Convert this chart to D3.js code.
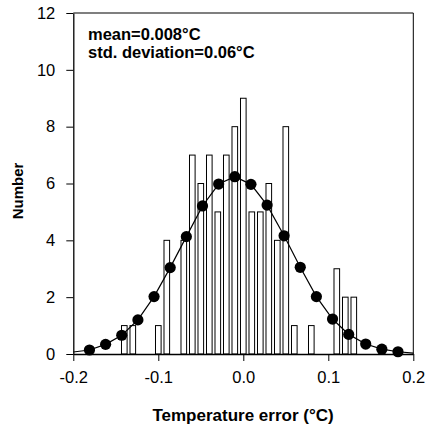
<!DOCTYPE html>
<html>
<head>
<meta charset="utf-8">
<script src="https://cdn.jsdelivr.net/npm/d3@7"></script>
<style>
body{margin:0;background:#fff;}
text{font-family:"Liberation Sans",Arial,sans-serif;}
</style>
</head>
<body>
<svg></svg>
<script>
width=426;
height=426;

// histogram: bin centres and counts
var binCenters=[-0.14,-0.13,-0.10,-0.09,-0.07,-0.06,-0.05,-0.04,-0.03,-0.02,-0.01,0.00,0.01,0.02,0.03,0.04,0.05,0.06,0.08,0.11,0.12,0.13];
var binCounts=[1,1,1,4,4,7,6,7,5,7,8,9,5,5,6,4,8,1,1,3,2,2];

// fitted curve, points with dots
var curveX=[-0.181,-0.162,-0.143,-0.124,-0.105,-0.086,-0.067,-0.048,-0.029,-0.010,0.009,0.028,0.048,0.067,0.086,0.105,0.124,0.144,0.163,0.182];
var curveY=[0.14,0.34,0.66,1.2,2.02,3.04,4.13,5.21,5.98,6.24,5.97,5.24,4.16,3.05,2.02,1.23,0.69,0.35,0.17,0.08];
// ends of the curve line at the axis limits
var curveEndX=[-0.2,0.2];
var curveEndY=[0.07,0.03];

var xTicks=[-0.2,-0.1,0.0,0.1,0.2];
var yTicks=[0,2,4,6,8,10,12];
var notes=["mean=0.008\u00b0C","std. deviation=0.06\u00b0C"];

var svg=d3.select("svg")
    .attr("width",width)
    .attr("height",height);

var x=d3.scaleLinear().domain([-0.2,0.2]).range([73.3,413.3]);
var y=d3.scaleLinear().domain([0,12]).range([354,13]);

var binHalf=0.0033;

// bars
svg.append("g")
    .attr("class","bars")
    .selectAll("rect")
    .data(binCenters)
    .enter().append("rect")
    .attr("x",function(d){return x(d-binHalf)})
    .attr("width",function(d){return x(d+binHalf)-x(d-binHalf)})
    .attr("y",function(d,i){return y(binCounts[i])})
    .attr("height",function(d,i){return y(0)-y(binCounts[i])})
    .attr("fill","#fff")
    .attr("stroke","#000")
    .attr("stroke-width",1);

// frame
svg.append("line").attr("x1",x(-0.2)).attr("x2",x(0.2)).attr("y1",y(12)).attr("y2",y(12))
    .attr("stroke","#000").attr("stroke-width",1.2);
svg.append("line").attr("x1",x(0.2)).attr("x2",x(0.2)).attr("y1",y(12)).attr("y2",y(0))
    .attr("stroke","#000").attr("stroke-width",1);

// axes
var xAxis=svg.append("g")
    .attr("transform","translate(0,"+y(0)+")")
    .call(d3.axisBottom(x).tickValues(xTicks).tickSize(7).tickSizeOuter(0).tickPadding(10)
        .tickFormat(function(d){return d.toFixed(1)}));
var yAxis=svg.append("g")
    .attr("transform","translate("+x(-0.2)+",0)")
    .call(d3.axisLeft(y).tickValues(yTicks).tickSize(7).tickSizeOuter(0).tickPadding(11));
svg.selectAll(".tick text").attr("font-size",16.5).attr("font-family","'Liberation Sans',Arial,sans-serif").attr("fill","#000");
svg.selectAll(".domain").attr("stroke","#000").attr("stroke-width",1.3);
svg.selectAll(".tick line").attr("stroke","#000");

// curve
var lineX=[curveEndX[0]].concat(curveX).concat([curveEndX[1]]);
var lineY=[curveEndY[0]].concat(curveY).concat([curveEndY[1]]);
var line=d3.line()
    .x(function(d){return x(d)})
    .y(function(d,i){return y(lineY[i])});
svg.append("path")
    .datum(lineX)
    .attr("d",line)
    .attr("fill","none")
    .attr("stroke","#000")
    .attr("stroke-width",1.2);

svg.append("g")
    .attr("class","dots")
    .selectAll("circle")
    .data(curveX)
    .enter().append("circle")
    .attr("cx",function(d){return x(d)})
    .attr("cy",function(d,i){return y(curveY[i])})
    .attr("r",5.6)
    .attr("fill","#000");

// notes
svg.append("g").selectAll("text")
    .data(notes)
    .enter().append("text")
    .attr("x",88)
    .attr("y",function(d,i){return 39.5+i*18})
    .attr("font-size",16.5)
    .attr("font-weight","bold")
    .text(function(d){return d});

// titles
svg.append("text")
    .attr("x",243)
    .attr("y",421)
    .attr("text-anchor","middle")
    .attr("font-size",17)
    .attr("font-weight","bold")
    .text("Temperature error (\u00b0C)");
svg.append("text")
    .attr("transform","translate(23,191) rotate(-90)")
    .attr("text-anchor","middle")
    .attr("font-size",15)
    .attr("font-weight","bold")
    .text("Number");
</script>
</body>
</html>
